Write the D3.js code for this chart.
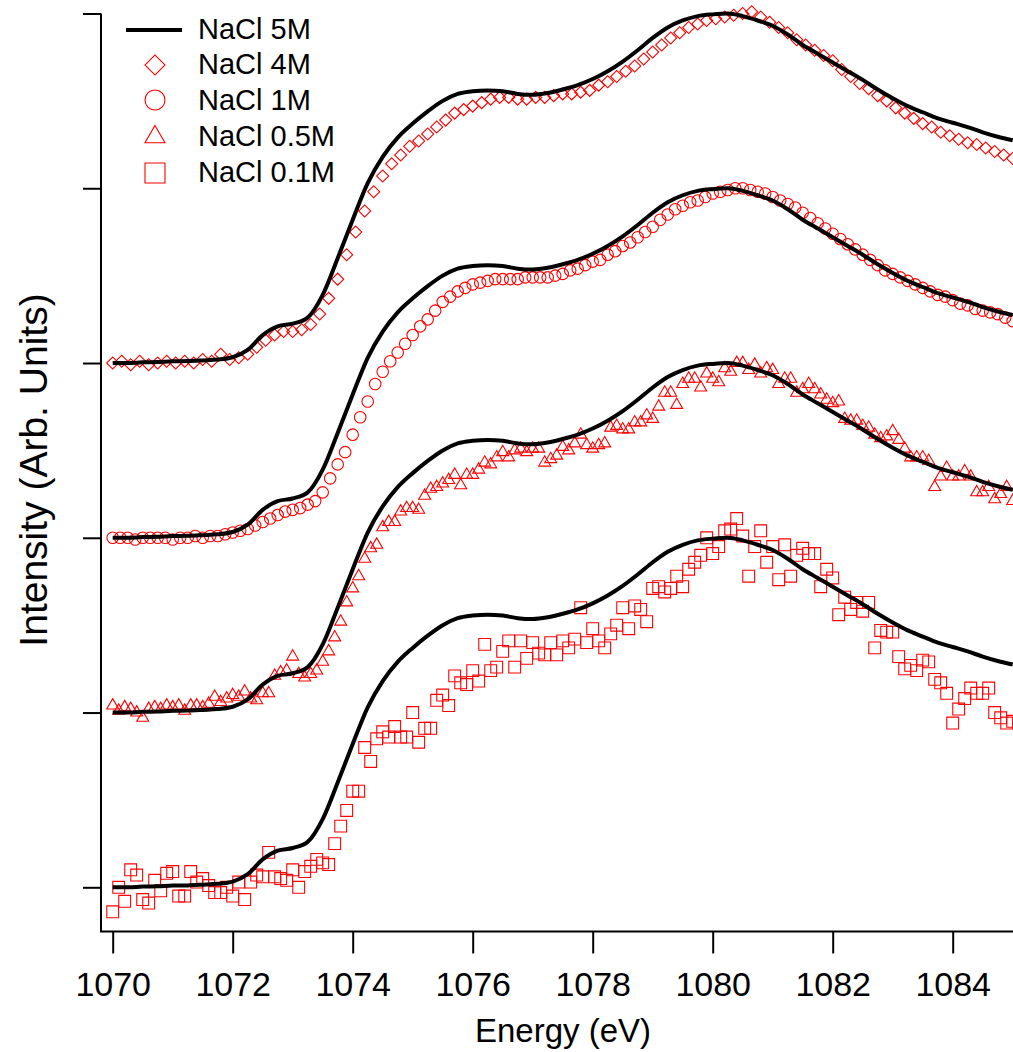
<!DOCTYPE html>
<html>
<head>
<meta charset="utf-8">
<script src="https://cdn.jsdelivr.net/npm/d3@7"></script>
<style>
  body { margin: 0; background: #fff; }
  text { font-family: "Liberation Sans", Arial, sans-serif; fill: #000; }
</style>
</head>
<body>
<svg id="chart" width="1013" height="1052"></svg>
<script>
// Normalised Na K-edge spectra, each concentration offset by one unit.
const energyStart = 1070;

// NaCl 5M reference spectrum, 0.25 eV grid
const step5M = 0.25;
const nacl5M = [
  0.000, 0.000, 0.004, 0.006, 0.010, 0.011, 0.015, 0.020,
  0.033, 0.075, 0.160, 0.210, 0.225, 0.260, 0.390, 0.600,
  0.820, 1.030, 1.180, 1.290, 1.370, 1.440, 1.500, 1.540,
  1.555, 1.560, 1.555, 1.540, 1.535, 1.545, 1.565, 1.590,
  1.625, 1.670, 1.725, 1.790, 1.860, 1.920, 1.960, 1.985,
  1.995, 2.000, 1.985, 1.960, 1.930, 1.880, 1.820, 1.770,
  1.720, 1.670, 1.620, 1.565, 1.515, 1.470, 1.435, 1.400,
  1.375, 1.350, 1.320, 1.295, 1.275
];

// NaCl 4M, 0.15 eV grid
const step4M = 0.15;
const nacl4M = [
  0.00, 0.01, -0.01, 0.01, -0.01, 0.00, 0.01, 0.00, 0.01, 0.00,
  0.02, 0.01, 0.05, 0.02, 0.03, 0.05, 0.09, 0.13, 0.16, 0.18,
  0.18, 0.19, 0.22, 0.28, 0.37, 0.48, 0.62, 0.75, 0.87, 0.98,
  1.07, 1.14, 1.19, 1.24, 1.27, 1.31, 1.35, 1.39, 1.43, 1.45,
  1.47, 1.49, 1.51, 1.52, 1.52, 1.51, 1.51, 1.52, 1.52, 1.53,
  1.54, 1.54, 1.55, 1.56, 1.59, 1.61, 1.64, 1.67, 1.70, 1.74,
  1.78, 1.82, 1.86, 1.89, 1.92, 1.94, 1.96, 1.97, 1.98, 1.99,
  2.00, 2.01, 1.98, 1.95, 1.92, 1.89, 1.85, 1.82, 1.79, 1.76,
  1.73, 1.68, 1.64, 1.60, 1.57, 1.53, 1.50, 1.46, 1.43, 1.40,
  1.37, 1.35, 1.32, 1.30, 1.28, 1.26, 1.25, 1.23, 1.21, 1.19,
  1.17
];

// NaCl 1M, 0.125 eV grid
const step1M = 0.125;
const nacl1M = [
  0.00, 0.00, 0.00, -0.01, 0.00, 0.00, 0.00, 0.00, -0.01, 0.00,
  0.00, 0.01, 0.00, 0.01, 0.01, 0.02, 0.03, 0.04, 0.05, 0.07,
  0.09, 0.11, 0.13, 0.15, 0.16, 0.17, 0.19, 0.21, 0.26, 0.34,
  0.42, 0.49, 0.59, 0.69, 0.78, 0.88, 0.95, 1.01, 1.06, 1.11,
  1.16, 1.21, 1.25, 1.30, 1.35, 1.38, 1.41, 1.43, 1.45, 1.46,
  1.47, 1.48, 1.48, 1.48, 1.48, 1.49, 1.49, 1.49, 1.49, 1.50,
  1.51, 1.53, 1.54, 1.56, 1.58, 1.59, 1.62, 1.64, 1.67, 1.69,
  1.72, 1.75, 1.78, 1.82, 1.85, 1.88, 1.90, 1.92, 1.93, 1.95,
  1.97, 1.98, 1.99, 2.00, 2.00, 1.99, 1.98, 1.97, 1.95, 1.93,
  1.91, 1.89, 1.86, 1.83, 1.80, 1.77, 1.74, 1.71, 1.68, 1.65,
  1.62, 1.59, 1.56, 1.53, 1.51, 1.49, 1.47, 1.45, 1.43, 1.41,
  1.39, 1.38, 1.36, 1.34, 1.33, 1.31, 1.30, 1.29, 1.28, 1.26,
  1.24
];

// NaCl 0.5M, 0.1 eV grid
const step05M = 0.1;
const nacl05M = [
  0.04, 0.01, 0.03, 0.02, 0.00, -0.03, 0.02, 0.03, 0.02, 0.04,
  0.03, 0.04, 0.01, 0.04, 0.04, 0.03, 0.05, 0.09, 0.06, 0.08,
  0.10, 0.09, 0.12, 0.08, 0.07, 0.11, 0.11, 0.21, 0.23, 0.24,
  0.32, 0.22, 0.20, 0.22, 0.24, 0.29, 0.35, 0.43, 0.52, 0.63,
  0.71, 0.78, 0.88, 0.94, 0.96, 1.06, 1.09, 1.09, 1.15, 1.17,
  1.17, 1.16, 1.24, 1.28, 1.29, 1.31, 1.33, 1.36, 1.30, 1.36,
  1.36, 1.39, 1.43, 1.42, 1.46, 1.49, 1.46, 1.50, 1.51, 1.49,
  1.51, 1.51, 1.43, 1.45, 1.47, 1.52, 1.50, 1.54, 1.59, 1.53,
  1.51, 1.53, 1.54, 1.63, 1.64, 1.62, 1.62, 1.66, 1.66, 1.70,
  1.68, 1.75, 1.83, 1.83, 1.76, 1.88, 1.91, 1.91, 1.86, 1.94,
  1.91, 1.89, 1.97, 1.95, 2.00, 2.00, 1.96, 1.99, 1.94, 1.97,
  1.96, 1.88, 1.91, 1.91, 1.83, 1.85, 1.88, 1.85, 1.82, 1.79,
  1.77, 1.78, 1.68, 1.67, 1.67, 1.64, 1.63, 1.59, 1.57, 1.58,
  1.61, 1.56, 1.51, 1.46, 1.46, 1.46, 1.44, 1.29, 1.35, 1.40,
  1.35, 1.35, 1.38, 1.35, 1.26, 1.26, 1.29, 1.22, 1.25, 1.29,
  1.21
];

// NaCl 0.1M, 0.1 eV grid
const step01M = 0.1;
const nacl01M = [
  -0.14, 0.00, -0.08, 0.10, 0.07, -0.07, -0.09, 0.04, -0.02, 0.08,
  0.09, -0.05, -0.05, 0.09, 0.03, 0.05, 0.01, -0.03, -0.03, 0.00,
  -0.05, 0.03, -0.07, 0.03, 0.07, 0.06, 0.20, 0.06, 0.05, 0.04,
  0.10, 0.00, 0.09, 0.12, 0.16, 0.14, 0.13, 0.25, 0.35, 0.44,
  0.55, 0.55, 0.80, 0.72, 0.85, 0.89, 0.86, 0.92, 0.86, 0.86,
  1.00, 0.83, 0.91, 0.91, 1.07, 1.10, 1.04, 1.21, 1.17, 1.16,
  1.24, 1.18, 1.39, 1.24, 1.26, 1.35, 1.41, 1.26, 1.41, 1.31,
  1.40, 1.34, 1.33, 1.40, 1.33, 1.41, 1.37, 1.42, 1.60, 1.40,
  1.48, 1.41, 1.37, 1.45, 1.50, 1.60, 1.48, 1.61, 1.59, 1.52,
  1.71, 1.72, 1.69, 1.71, 1.78, 1.72, 1.82, 1.86, 1.90, 2.00,
  1.91, 1.95, 2.04, 2.05, 2.11, 2.01, 1.78, 1.95, 2.04, 1.86,
  1.95, 1.76, 1.96, 1.78, 1.90, 1.94, 1.91, 1.91, 1.72, 1.82,
  1.77, 1.56, 1.66, 1.59, 1.63, 1.58, 1.63, 1.37, 1.47, 1.46,
  1.46, 1.32, 1.25, 1.27, 1.24, 1.30, 1.29, 1.19, 1.17, 1.11,
  0.94, 1.02, 1.08, 1.14, 1.11, 1.11, 1.14, 1.00, 0.97, 0.94,
  0.95
];

const xTicks = [1070, 1072, 1074, 1076, 1078, 1080, 1082, 1084];
const yTicks = [0, 1, 2, 3, 4, 5];
const legendLabels = ["NaCl 5M", "NaCl 4M", "NaCl 1M", "NaCl 0.5M", "NaCl 0.1M"];
const stackOffsets = [3, 2, 1, 0];

const toPoints = (values, step) =>
  values.map((v, i) => ({ e: energyStart + i * step, v }));

const reference = toPoints(nacl5M, step5M);
const samples = [
  { points: toPoints(nacl4M, step4M),  offset: stackOffsets[0], shape: "diamond",  size: 72 },
  { points: toPoints(nacl1M, step1M),  offset: stackOffsets[1], shape: "circle",   size: 104 },
  { points: toPoints(nacl05M, step05M), offset: stackOffsets[2], shape: "triangle", size: 62 },
  { points: toPoints(nacl01M, step01M), offset: stackOffsets[3], shape: "square",   size: 140 }
];

const svg = d3.select("#chart");
const x = d3.scaleLinear().domain([1070, 1085]).range([112.7, 1012.7]);
const y = d3.scaleLinear().domain([-0.25, 5]).range([931, 13.5]);

const red = "#ff0000";
const symbolTypes = {
  diamond: d3.symbolSquare,
  circle: d3.symbolCircle,
  triangle: d3.symbolTriangle,
  square: d3.symbolSquare
};
const markerPath = (shape, size) => d3.symbol(symbolTypes[shape], size)();
const markerTransform = (shape, px, py) =>
  `translate(${px},${py})` + (shape === "diamond" ? " rotate(45)" : "");

const plot = svg.append("g");

// sample markers
samples.forEach(s => {
  plot.append("g")
    .selectAll("path")
    .data(s.points)
    .join("path")
    .attr("d", markerPath(s.shape, s.size))
    .attr("transform", d => markerTransform(s.shape, x(d.e), y(d.v + s.offset)))
    .attr("fill", "none")
    .attr("stroke", red)
    .attr("stroke-width", 1.1);
});

// 5M reference drawn over each stacked sample
const line = d3.line()
  .x(d => x(d.e))
  .curve(d3.curveMonotoneX);
stackOffsets.forEach(off => {
  plot.append("path")
    .datum(reference)
    .attr("d", line.y(d => y(d.v + off)))
    .attr("fill", "none")
    .attr("stroke", "#000")
    .attr("stroke-width", 4)
    .attr("stroke-linejoin", "round");
});

// axes
svg.append("path")
  .attr("d", `M101,${y(5)}V931.5H1013`)
  .attr("fill", "none")
  .attr("stroke", "#000")
  .attr("stroke-width", 2);

const yAxis = svg.append("g")
  .attr("transform", "translate(101,0)")
  .call(d3.axisLeft(y).tickValues(yTicks).tickSize(18).tickFormat(""));
yAxis.select(".domain").remove();
yAxis.selectAll(".tick line").attr("stroke", "#000").attr("stroke-width", 2);

const xAxis = svg.append("g")
  .attr("transform", "translate(0,931.5)")
  .call(d3.axisBottom(x).tickValues(xTicks).tickSize(22).tickPadding(18).tickFormat(d3.format("d")));
xAxis.select(".domain").remove();
xAxis.selectAll(".tick line").attr("stroke", "#000").attr("stroke-width", 2);
xAxis.selectAll(".tick text")
  .attr("font-family", "Liberation Sans, Arial, sans-serif")
  .attr("font-size", 34)
  .attr("fill", "#000");

svg.append("text")
  .attr("x", 563)
  .attr("y", 1042)
  .attr("text-anchor", "middle")
  .attr("font-size", 33)
  .text("Energy (eV)");

svg.append("text")
  .attr("transform", "translate(47,470) rotate(-90)")
  .attr("text-anchor", "middle")
  .attr("font-size", 39)
  .text("Intensity (Arb. Units)");

// legend
const legend = svg.append("g");
const rowY = [30, 65, 100, 137, 173];
const baseY = [39, 74, 110, 146, 182];
legend.append("line")
  .attr("x1", 126).attr("x2", 182)
  .attr("y1", rowY[0]).attr("y2", rowY[0])
  .attr("stroke", "#000").attr("stroke-width", 4);
const legendShapes = [
  { shape: "diamond", size: 200 },
  { shape: "circle", size: 314 },
  { shape: "triangle", size: 173 },
  { shape: "square", size: 400 }
];
legendShapes.forEach((m, i) => {
  legend.append("path")
    .attr("d", markerPath(m.shape, m.size))
    .attr("transform", markerTransform(m.shape, 155, rowY[i + 1]))
    .attr("fill", "none")
    .attr("stroke", red)
    .attr("stroke-width", 1.1);
});
legendLabels.forEach((label, i) => {
  legend.append("text")
    .attr("x", 198)
    .attr("y", baseY[i])
    .attr("font-size", 29)
    .text(label);
});
</script>
</body>
</html>
